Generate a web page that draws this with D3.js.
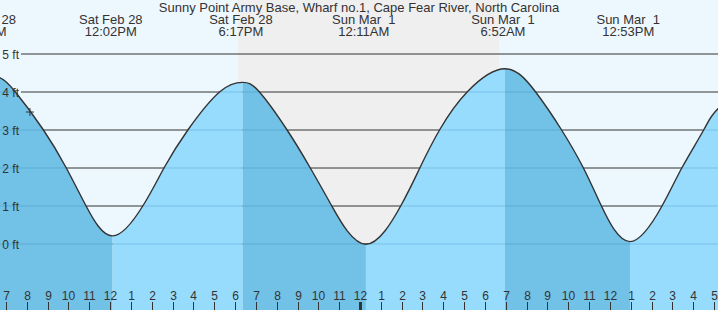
<!DOCTYPE html>
<html>
<head>
<meta charset="utf-8">
<script src="https://cdn.jsdelivr.net/npm/d3@7"></script>
<style>
  body { margin: 0; background: #fff; }
  svg { display: block; font-family: "Liberation Sans", Arial, sans-serif; }
  text { fill: #333; white-space: pre; }
</style>
</head>
<body>
<svg id="chart" width="718" height="310"></svg>
<script>
const title = "Sunny Point Army Base, Wharf no.1, Cape Fear River, North Carolina";

// tide level readings (ft)
const tideTimes = [
  "2026-02-28 05:57", "2026-02-28 06:43", "2026-02-28 07:26", "2026-02-28 08:47",
  "2026-02-28 09:53", "2026-02-28 10:50", "2026-02-28 12:07", "2026-02-28 13:35",
  "2026-02-28 14:36", "2026-02-28 15:45", "2026-02-28 17:17", "2026-02-28 18:22",
  "2026-02-28 19:09", "2026-02-28 20:29", "2026-02-28 21:36", "2026-02-28 22:38",
  "2026-03-01 00:17", "2026-03-01 01:58", "2026-03-01 02:53", "2026-03-01 03:50",
  "2026-03-01 05:10", "2026-03-01 06:58", "2026-03-01 08:25", "2026-03-01 09:40",
  "2026-03-01 10:43", "2026-03-01 11:35", "2026-03-01 12:58", "2026-03-01 14:31",
  "2026-03-01 15:28", "2026-03-01 16:31", "2026-03-01 17:12", "2026-03-01 19:00"
];
const tideLevels = [
  4.45, 4.36, 4.0, 3.0,
  2.0, 1.0, 0.2, 1.0,
  2.0, 3.0, 4.0, 4.24,
  4.0, 3.0, 2.0, 1.0,
  -0.02, 1.0, 2.0, 3.0,
  4.0, 4.6, 4.0, 3.0,
  2.0, 1.0, 0.05, 1.0,
  2.0, 3.0, 3.55, 4.35
];

// high / low tide labels along the top
const extremeTimes = [
  "2026-02-28 05:57", "2026-02-28 12:02", "2026-02-28 18:17",
  "2026-03-01 00:11", "2026-03-01 06:52", "2026-03-01 12:53"
];

const yTicks = [0, 1, 2, 3, 4, 5];
const sunset = "2026-02-28 18:08";
const sunrise = "2026-03-01 06:41";
const nowTime = "2026-02-28 08:09";
const nowLevel = 3.46;

const W = 718, H = 310;
const parse = d3.timeParse("%Y-%m-%d %H:%M");
const svg = d3.select("#chart");

const x = d3.scaleTime()
  .domain([parse("2026-02-28 07:00"), parse("2026-03-01 17:00")])
  .range([6, 714]);
const y = d3.scaleLinear().domain([0, 5]).range([243.5, 53.5]);

const tide = tideTimes.map((t, i) => ({ t: parse(t), v: tideLevels[i] }));

// background: day sky and night band
svg.append("rect").attr("width", W).attr("height", H).attr("fill", "#edf7fe");
svg.append("rect")
  .attr("x", x(parse(sunset)))
  .attr("width", x(parse(sunrise)) - x(parse(sunset)))
  .attr("height", H)
  .attr("fill", "#efefef");

// gridlines (dark, visible in the sky)
const grid = svg.append("g")
  .attr("transform", "translate(21,0)")
  .call(d3.axisLeft(y).tickValues(yTicks).tickSize(-(W - 21)).tickFormat(""));
grid.select(".domain").remove();
grid.selectAll("line").attr("stroke", "#333");

// water, split into falling (dark) and rising (light) parts
const area = d3.area()
  .x(d => x(d.t))
  .y0(H)
  .y1(d => y(d.v))
  .curve(d3.curveNatural);

const breaks = [x.invert(0)];
for (let i = 1; i < tide.length - 1; i++) {
  if ((tide[i].v - tide[i - 1].v) * (tide[i + 1].v - tide[i].v) < 0) breaks.push(tide[i].t);
}
breaks.push(x.invert(W));

const defs = svg.append("defs");
defs.append("clipPath").attr("id", "water")
  .append("path").attr("d", area(tide));

for (let s = 0; s < breaks.length - 1; s++) {
  const a = breaks[s], b = breaks[s + 1];
  const j = tide.findIndex(d => d.t > a);
  const rising = tide[j].v > tide[j - 1].v;
  defs.append("clipPath").attr("id", "seg" + s)
    .append("rect")
    .attr("x", x(a)).attr("y", 0)
    .attr("width", x(b) - x(a)).attr("height", H);
  svg.append("path")
    .attr("d", area(tide))
    .attr("clip-path", `url(#seg${s})`)
    .attr("fill", rising ? "#97dcfd" : "#72c1e6");
}

// faint gridlines seen through the water
const wgrid = svg.append("g")
  .attr("clip-path", "url(#water)")
  .append("g")
  .attr("transform", "translate(0,0)")
  .call(d3.axisLeft(y).tickValues(yTicks).tickSize(-W).tickFormat(""));
wgrid.select(".domain").remove();
wgrid.selectAll("line").attr("stroke", "rgba(20,100,160,0.22)");

// tide curve
svg.append("path")
  .datum(tide)
  .attr("fill", "none")
  .attr("stroke", "#333")
  .attr("stroke-width", 1.4)
  .attr("d", d3.line().x(d => x(d.t)).y(d => y(d.v)).curve(d3.curveNatural));

// current time marker
svg.append("path")
  .attr("transform", `translate(${x(parse(nowTime))},${y(nowLevel)})`)
  .attr("d", "M-4,0H4M0,-4V4")
  .attr("stroke", "#333")
  .attr("stroke-width", 1);

// y labels
const yAxis = svg.append("g")
  .attr("transform", "translate(21,0)")
  .call(d3.axisLeft(y).tickValues(yTicks).tickSize(0).tickPadding(2).tickFormat(d => d + " ft"));
yAxis.select(".domain").remove();
yAxis.selectAll("text")
  .attr("font-size", 12)
  .attr("font-family", "Liberation Sans, Arial, sans-serif")
  .attr("dy", "0.4em");

// hour axis at the bottom
const xAxis = svg.append("g")
  .attr("transform", `translate(0,${H})`)
  .call(d3.axisTop(x).ticks(d3.timeHour.every(1)).tickSize(8).tickPadding(2)
    .tickFormat(d3.timeFormat("%-I")));
xAxis.select(".domain").remove();
xAxis.selectAll(".tick")
  .attr("transform", d => `translate(${Math.round(x(d)) + 0.5},0)`);
xAxis.selectAll(".tick line")
  .attr("stroke", "#333")
  .attr("stroke-width", d => d.getHours() === 0 ? 3 : 1);
xAxis.selectAll("text")
  .attr("font-size", 12)
  .attr("font-family", "Liberation Sans, Arial, sans-serif");

// title and tide extreme labels
svg.append("text")
  .attr("x", 359).attr("y", 12)
  .attr("text-anchor", "middle")
  .attr("font-size", 13)
  .text(title);

const fmtDay = d3.timeFormat("%a %b %e");
const fmtTime = d3.timeFormat("%-I:%M%p");
const lbl = svg.selectAll(".ext")
  .data(extremeTimes.map(parse))
  .join("text")
  .attr("class", "ext")
  .attr("text-anchor", "middle")
  .attr("font-size", 13);
lbl.append("tspan").attr("x", d => x(d)).attr("y", 24).text(d => fmtDay(d));
lbl.append("tspan").attr("x", d => x(d)).attr("y", 36).text(d => fmtTime(d));
</script>
</body>
</html>
